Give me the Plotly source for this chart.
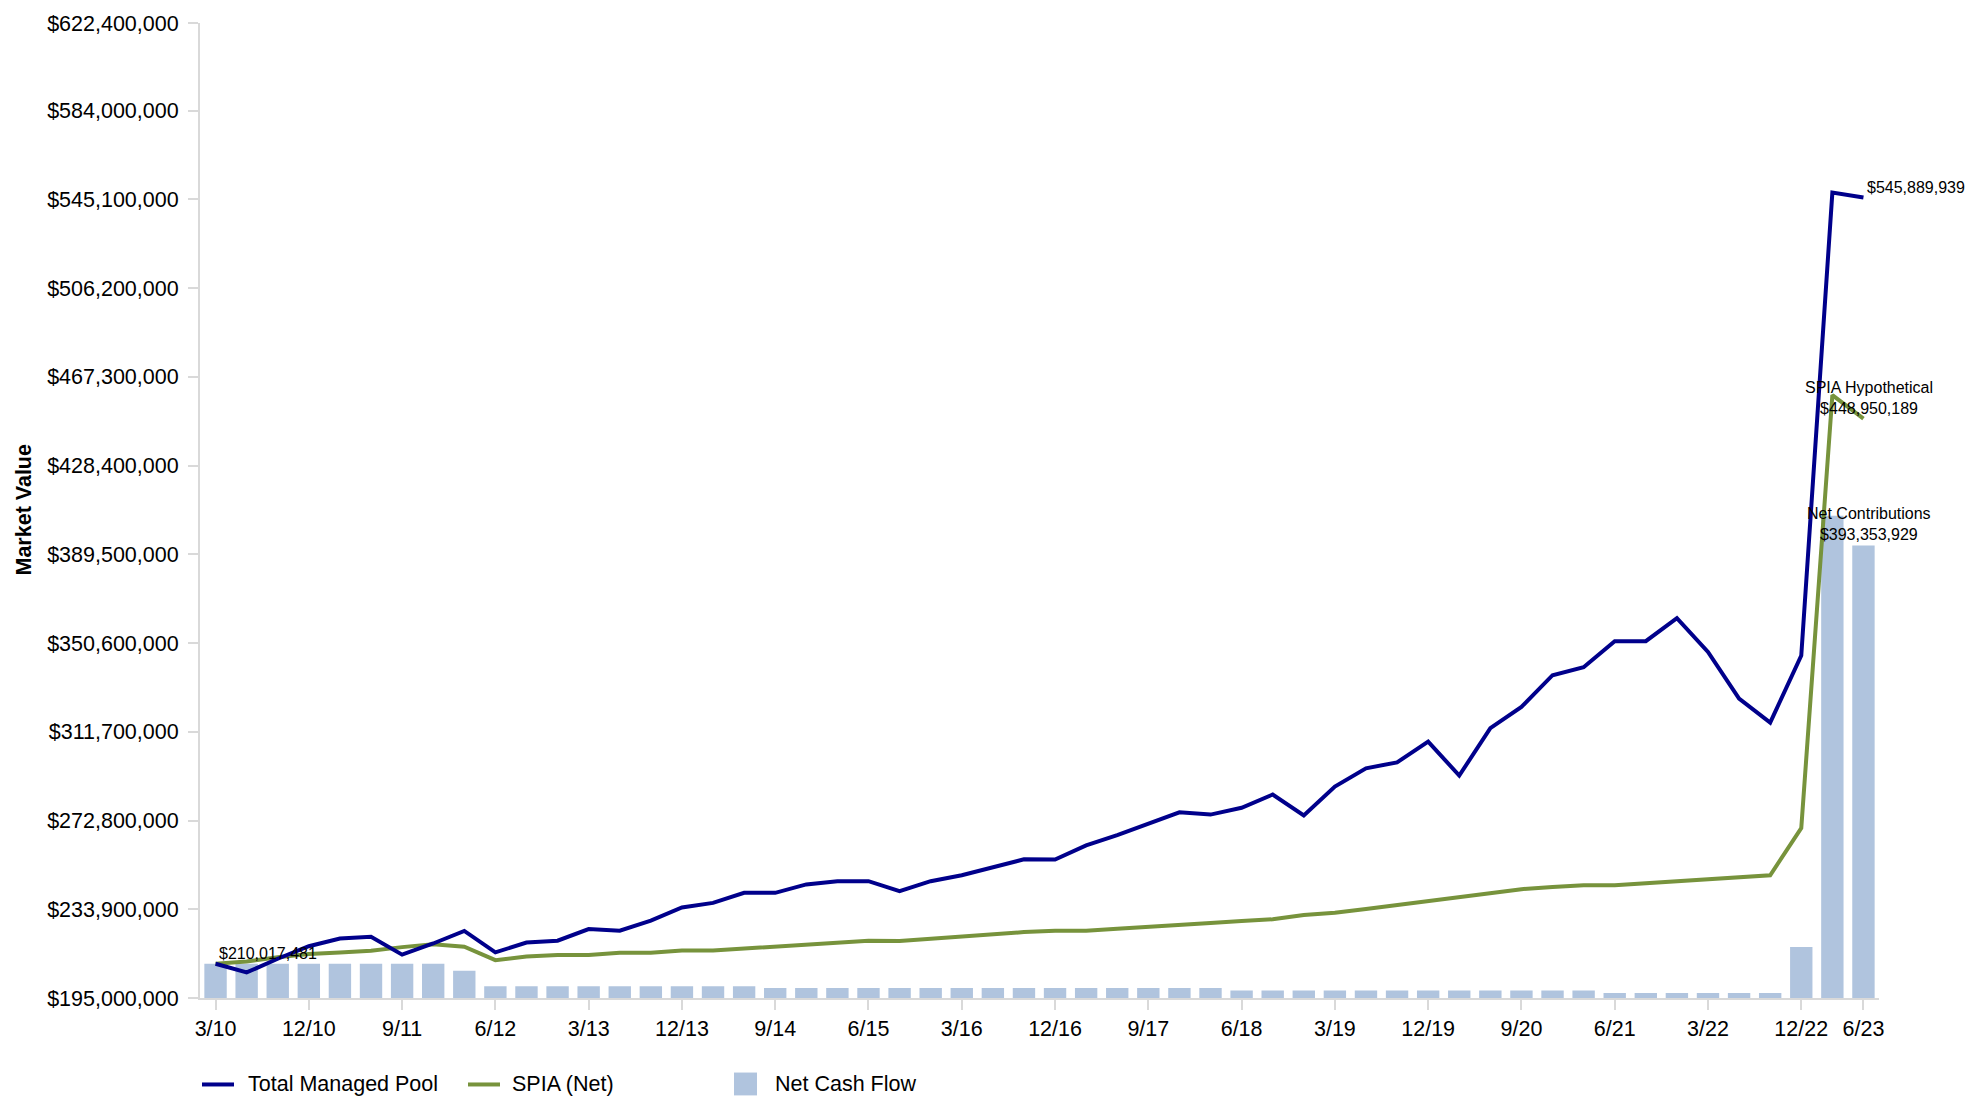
import plotly.graph_objects as go

# ---------------- data ----------------
quarters = ["3/10", "6/10", "9/10", "12/10", "3/11", "6/11", "9/11", "12/11",
            "3/12", "6/12", "9/12", "12/12", "3/13", "6/13", "9/13", "12/13",
            "3/14", "6/14", "9/14", "12/14", "3/15", "6/15", "9/15", "12/15",
            "3/16", "6/16", "9/16", "12/16", "3/17", "6/17", "9/17", "12/17",
            "3/18", "6/18", "9/18", "12/18", "3/19", "6/19", "9/19", "12/19",
            "3/20", "6/20", "9/20", "12/20", "3/21", "6/21", "9/21", "12/21",
            "3/22", "6/22", "9/22", "12/22", "3/23", "6/23"]

# values in millions of dollars
total_managed_pool = [210.017481, 206.2, 212.2, 217.7, 221.1, 221.8, 214.0, 218.9,
                      224.4, 215.0, 219.3, 220.1, 225.2, 224.5, 228.9, 234.7,
                      236.7, 241.1, 241.1, 244.8, 246.2, 246.2, 241.8, 246.2,
                      248.8, 252.2, 255.8, 255.7, 261.9, 266.4, 271.4, 276.4,
                      275.4, 278.4, 284.2, 275.0, 287.7, 295.7, 298.3, 307.4,
                      292.5, 313.3, 322.6, 336.5, 340.0, 351.4, 351.4, 361.5,
                      346.7, 326.2, 315.7, 345.1, 548.1, 545.889939]

spia_net = [210.017481, 211.0, 212.9, 214.3, 214.9, 215.7, 217.3, 218.6,
            217.5, 211.6, 213.2, 213.9, 213.9, 214.8, 214.8, 215.8,
            215.8, 216.6, 217.5, 218.4, 219.3, 220.1, 220.0, 221.0,
            222.1, 223.2, 223.9, 224.5, 224.5, 225.4, 226.1, 227.0,
            227.9, 228.7, 229.5, 231.4, 232.4, 234.0, 235.7, 237.6,
            239.3, 241.1, 242.7, 243.7, 244.4, 244.4, 245.2, 246.2,
            247.1, 247.9, 248.8, 269.5, 459.3, 448.950189]

net_cash_flow = [210.0, 210.0, 210.0, 210.0, 210.0, 210.0, 210.0, 210.0,
                 207.0, 200.2, 200.2, 200.2, 200.2, 200.2, 200.2, 200.2,
                 200.2, 200.2, 199.4, 199.4, 199.4, 199.4, 199.4, 199.4,
                 199.4, 199.4, 199.4, 199.4, 199.4, 199.4, 199.4, 199.4,
                 199.4, 198.3, 198.3, 198.3, 198.3, 198.3, 198.3, 198.3,
                 198.3, 198.3, 198.3, 198.3, 198.3, 197.2, 197.2, 197.2,
                 197.2, 197.2, 197.2, 217.4, 406.4, 393.353929]

x_tick_labels = ["3/10", "12/10", "9/11", "6/12", "3/13", "12/13", "9/14", "6/15",
                 "3/16", "12/16", "9/17", "6/18", "3/19", "12/19", "9/20", "6/21",
                 "3/22", "12/22", "6/23"]

y_tick_values = [195000000, 233900000, 272800000, 311700000, 350600000, 389500000,
                 428400000, 467300000, 506200000, 545100000, 584000000, 622400000]
y_tick_labels = ["$195,000,000", "$233,900,000", "$272,800,000", "$311,700,000",
                 "$350,600,000", "$389,500,000", "$428,400,000", "$467,300,000",
                 "$506,200,000", "$545,100,000", "$584,000,000", "$622,400,000"]

series_names = ["Total Managed Pool", "SPIA (Net)", "Net Cash Flow"]

# ---------------- styling ----------------
NAVY = "#00008B"
GREEN = "#77933C"
BAR = "#B0C4DE"
AXIS = "#D9D9D9"
FONT = "Arial, Liberation Sans, sans-serif"
FS = 21.5

M = 1_000_000
tot = [v * M for v in total_managed_pool]
spia = [v * M for v in spia_net]
ncf = [v * M for v in net_cash_flow]

fig = go.Figure()
fig.add_trace(go.Bar(x=quarters, y=ncf, name=series_names[2], marker_color=BAR,
                     marker_line_width=0, showlegend=False))
fig.add_trace(go.Scatter(x=quarters, y=spia, name=series_names[1], mode="lines",
                         line=dict(color=GREEN, width=4), showlegend=False))
fig.add_trace(go.Scatter(x=quarters, y=tot, name=series_names[0], mode="lines",
                         line=dict(color=NAVY, width=4), showlegend=False))

ann_font = dict(family=FONT, size=16, color="#000000")
annotations = [
    dict(x=quarters[0], y=tot[0], text="$210,017,481", xanchor="left", yanchor="bottom",
         showarrow=False, xshift=1, yshift=0, font=ann_font),
    dict(x=quarters[-1], y=tot[-1], text="$545,889,939", xanchor="left", yanchor="bottom",
         showarrow=False, xshift=2, yshift=0, font=ann_font),
    dict(x=quarters[-1], y=spia[-1], text="SPIA Hypothetical<br>$448,950,189",
         xanchor="center", yanchor="bottom", showarrow=False, xshift=6, yshift=0,
         font=ann_font),
    dict(x=quarters[-1], y=ncf[-1], text="Net Contributions<br>$393,353,929",
         xanchor="center", yanchor="bottom", showarrow=False, xshift=6, yshift=1,
         font=ann_font),
]

# plot area geometry (px) used to place the custom legend and y title
L, R, T, B = 200, 105, 17, 99
PW, PH = 1984.0 - L - R, 1097.0 - T - B
def px_x(px):
    return (px - L) / PW
def px_y(py):
    return (1097 - B - py) / PH

annotations.append(dict(xref="paper", yref="paper", x=px_x(23), y=0.5,
                        text="<b>Market Value</b>", textangle=-90, showarrow=False,
                        xanchor="center", yanchor="middle",
                        font=dict(family=FONT, size=FS, color="#000000")))

leg_y = px_y(1085)
leg_font = dict(family=FONT, size=FS, color="#000000")
shapes = [
    dict(type="line", xref="paper", yref="paper", x0=px_x(202), x1=px_x(234),
         y0=leg_y, y1=leg_y, line=dict(color=NAVY, width=4)),
    dict(type="line", xref="paper", yref="paper", x0=px_x(468), x1=px_x(500),
         y0=leg_y, y1=leg_y, line=dict(color=GREEN, width=4)),
    dict(type="rect", xref="paper", yref="paper", x0=px_x(734), x1=px_x(757),
         y0=px_y(1073), y1=px_y(1096), fillcolor=BAR, line=dict(width=0)),
]
for label, px in zip(series_names, [246, 510, 773]):
    annotations.append(dict(xref="paper", yref="paper", x=px_x(px), y=leg_y, text=label,
                            xanchor="left", yanchor="middle", showarrow=False,
                            font=leg_font))

fig.update_layout(
    width=1984, height=1097,
    margin=dict(l=L, r=R, t=T, b=B, pad=0),
    plot_bgcolor="white", paper_bgcolor="white",
    font=dict(family=FONT, size=FS, color="#000000"),
    bargap=0.28,
    showlegend=False,
    annotations=annotations,
    shapes=shapes,
)
fig.update_xaxes(
    type="category", categoryorder="array", categoryarray=quarters,
    range=[-0.5, len(quarters) - 0.5],
    tickmode="array", tickvals=x_tick_labels, ticktext=x_tick_labels,
    ticks="outside", ticklen=10, tickwidth=2, tickcolor=AXIS,
    showline=True, linecolor=AXIS, linewidth=2,
    showgrid=False, zeroline=False,
    tickfont=dict(family=FONT, size=FS, color="#000000"),
)
fig.update_yaxes(
    range=[195000000, 622400000],
    tickmode="array", tickvals=y_tick_values, ticktext=y_tick_labels,
    ticks="outside", ticklen=10, tickwidth=2, tickcolor=AXIS,
    showline=True, linecolor=AXIS, linewidth=2,
    showgrid=False, zeroline=False,
    ticklabelstandoff=5,
    tickfont=dict(family=FONT, size=FS, color="#000000"),
)

fig.write_html("out.html")
